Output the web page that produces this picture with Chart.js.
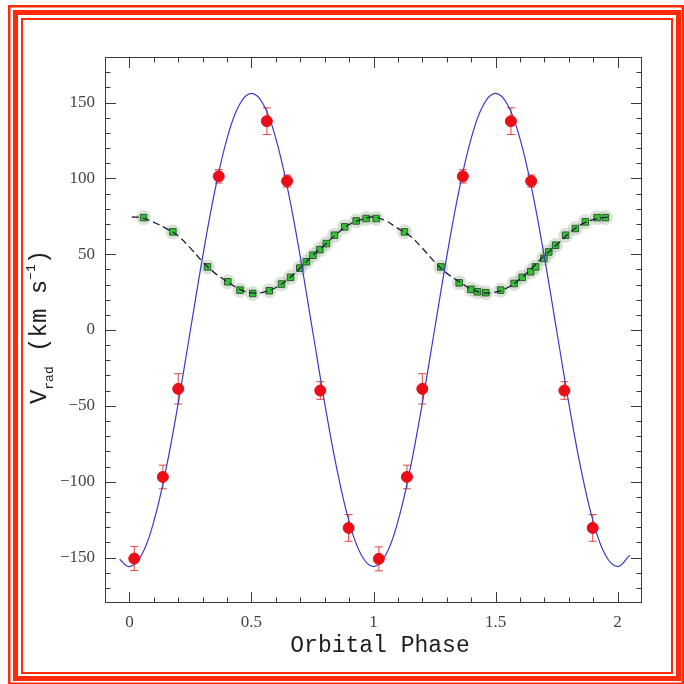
<!DOCTYPE html>
<html>
<head>
<meta charset="utf-8">
<title>Radial velocity curve</title>
<script src="https://cdn.jsdelivr.net/npm/chart.js@4.4.1/dist/chart.umd.min.js"></script>
<style>
  html, body { margin: 0; padding: 0; background: #ffffff; }
  canvas { display: block; }
</style>
</head>
<body>
<canvas id="rv" width="684" height="684"></canvas>
<script>
// Primary star: measured radial velocities (km/s) with 1-sigma errors, folded over two cycles
const primaryPhase = [0.02, 0.137, 0.20, 0.366, 0.563, 0.646, 0.782, 0.898,
                      1.022, 1.137, 1.20, 1.366, 1.563, 1.646, 1.782, 1.898];
const primaryVel   = [-150.7, -96.9, -38.8, 101.3, 137.7, 98.2, -39.9, -130.5,
                      -150.9, -96.9, -38.8, 101.3, 137.7, 98.2, -39.9, -130.5];
const primaryErr   = [7.9, 7.8, 10, 4.4, 8.8, 4, 5.8, 8.8,
                      7.9, 7.8, 10, 4.4, 8.8, 4, 5.8, 8.8];

// Orbital solution for the primary
const fitPhase = [-0.04, 0, 0.05, 0.10, 0.15, 0.20, 0.25, 0.30, 0.35, 0.40, 0.45, 0.50,
                  0.55, 0.60, 0.65, 0.70, 0.75, 0.80, 0.85, 0.90, 0.95, 1.00,
                  1.05, 1.10, 1.15, 1.20, 1.25, 1.30, 1.35, 1.40, 1.45, 1.50,
                  1.55, 1.60, 1.65, 1.70, 1.75, 1.80, 1.85, 1.90, 1.95, 2.00, 2.05];
const fitVel   = [-151.1, -156, -148.4, -126.2, -91.7, -48.2, 0, 48.2, 91.7, 126.2, 148.4, 156,
                  148.4, 126.2, 91.7, 48.2, 0, -48.2, -91.7, -126.2, -148.4, -156,
                  -148.4, -126.2, -91.7, -48.2, 0, 48.2, 91.7, 126.2, 148.4, 156,
                  148.4, 126.2, 91.7, 48.2, 0, -48.2, -91.7, -126.2, -148.4, -156, -148.4];

// Secondary component velocities (km/s)
const secondaryPhase = [0.058, 0.178, 0.32, 0.403, 0.453, 0.505, 0.573, 0.623, 0.66, 0.698,
                        0.725, 0.752, 0.78, 0.807, 0.84, 0.882, 0.929, 0.97, 1.011,
                        1.127, 1.276, 1.351, 1.399, 1.426, 1.46, 1.521, 1.576, 1.609, 1.644,
                        1.664, 1.698, 1.718, 1.746, 1.787, 1.827, 1.868, 1.916, 1.95];
const secondaryVel   = [74.1, 64.7, 41.6, 31.8, 26.3, 24.1, 25.9, 30.3, 34.7, 40.8,
                        45, 49.3, 53, 57, 62.5, 68, 71.9, 73.5, 73.5,
                        64.7, 41.6, 31.1, 26.8, 25.2, 24.6, 26.3, 30.7, 34.7, 38.4,
                        41.6, 47.2, 51.5, 55.9, 62.5, 66.9, 71.3, 74.1, 74.1];

// Model curve through the secondary velocities
const secFitPhase = [0.01, 0.05, 0.10, 0.15, 0.20, 0.25, 0.30, 0.35, 0.40, 0.45, 0.50,
                     0.55, 0.60, 0.65, 0.70, 0.75, 0.80, 0.85, 0.90, 0.95, 1.00,
                     1.05, 1.10, 1.15, 1.20, 1.25, 1.30, 1.35, 1.40, 1.45, 1.50,
                     1.55, 1.60, 1.65, 1.70, 1.75, 1.80, 1.85, 1.90, 1.95, 1.97];
const secFitVel   = [74.5, 74, 71, 67, 62, 54, 45, 37.5, 32, 27, 24.5,
                     25, 28, 33.5, 41, 49, 56, 63.5, 69.5, 72.8, 74.5,
                     72, 67, 62, 54, 45, 37.5, 32, 27, 24.5, 25,
                     28, 33.5, 41, 49, 56, 63.5, 69.5, 72.8, 74.2, 74.5];

// Axis tick labels
const xTickValues = [0, 0.5, 1, 1.5, 2];
const yTickValues = [-150, -100, -50, 0, 50, 100, 150];

const toPoints = (xs, ys) => xs.map((x, i) => ({ x: x, y: ys[i] }));
const fmtNum = v => (v < 0 ? '\u2212' + Math.abs(v) : String(v));

// Red double frame around the figure
const framePlugin = {
  id: 'frame',
  beforeDraw(chart) {
    const ctx = chart.ctx;
    ctx.save();
    ctx.fillStyle = '#ff2a08';
    const band = (x0, y0, x1, y1, w) => {
      ctx.fillRect(x0, y0, x1 - x0, w);
      ctx.fillRect(x0, y1 - w, x1 - x0, w);
      ctx.fillRect(x0, y0, w, y1 - y0);
      ctx.fillRect(x1 - w, y0, w, y1 - y0);
    };
    band(8, 5, 684, 685, 2.5);
    band(13, 10, 681, 681, 5);
    band(21, 18, 673, 674, 2);
    ctx.restore();
  }
};

// Error bars on the primary velocities
const errorBarPlugin = {
  id: 'errorBars',
  beforeDatasetsDraw(chart) {
    const ctx = chart.ctx, xs = chart.scales.x, ys = chart.scales.y;
    ctx.save();
    ctx.strokeStyle = '#e0463e';
    ctx.lineWidth = 1;
    primaryPhase.forEach((p, i) => {
      const x = xs.getPixelForValue(p);
      const yLo = ys.getPixelForValue(primaryVel[i] - primaryErr[i]);
      const yHi = ys.getPixelForValue(primaryVel[i] + primaryErr[i]);
      ctx.beginPath();
      ctx.moveTo(x, yLo); ctx.lineTo(x, yHi);
      ctx.moveTo(x - 4, yLo); ctx.lineTo(x + 4, yLo);
      ctx.moveTo(x - 4, yHi); ctx.lineTo(x + 4, yHi);
      ctx.stroke();
    });
    ctx.restore();
  }
};

// Box with inward ticks on all four sides, plus axis titles
const boxPlugin = {
  id: 'box',
  afterDraw(chart) {
    const ctx = chart.ctx, xs = chart.scales.x, ys = chart.scales.y;
    const a = chart.chartArea;
    ctx.save();
    ctx.strokeStyle = '#3a3a3a';
    ctx.lineWidth = 1;
    ctx.strokeRect(a.left + 0.5, a.top + 0.5, a.right - a.left - 1, a.bottom - a.top - 1);
    ctx.beginPath();
    for (let k = 0; k <= 20; k++) {
      const v = k / 10;
      const x = Math.round(xs.getPixelForValue(v)) + 0.5;
      const len = (k % 5 === 0) ? 11 : 5.5;
      ctx.moveTo(x, a.bottom); ctx.lineTo(x, a.bottom - len);
      ctx.moveTo(x, a.top); ctx.lineTo(x, a.top + len);
    }
    for (let v = -170; v <= 170; v += 10) {
      const y = Math.round(ys.getPixelForValue(v)) + 0.5;
      const len = (v % 50 === 0) ? 11 : 5.5;
      ctx.moveTo(a.left, y); ctx.lineTo(a.left + len, y);
      ctx.moveTo(a.right, y); ctx.lineTo(a.right - len, y);
    }
    ctx.stroke();

    // x-axis title
    ctx.fillStyle = '#1e1e1e';
    ctx.font = '23px "Liberation Mono"';
    ctx.textAlign = 'center';
    ctx.textBaseline = 'alphabetic';
    ctx.fillText('Orbital Phase', 380, 652);

    // y-axis title with subscript and superscript
    const big = '24px "Liberation Mono"', small = '13px "Liberation Mono"';
    const parts = [
      { t: 'V', f: big, dy: 0 },
      { t: 'rad', f: small, dy: 7 },
      { t: ' (km s', f: big, dy: 0 },
      { t: '\u22121', f: small, dy: -11 },
      { t: ')', f: big, dy: 0 }
    ];
    let total = 0;
    parts.forEach(p => { ctx.font = p.f; p.w = ctx.measureText(p.t).width; total += p.w; });
    ctx.translate(46, 327);
    ctx.rotate(-Math.PI / 2);
    ctx.textAlign = 'left';
    let cx = -total / 2;
    parts.forEach(p => { ctx.font = p.f; ctx.fillText(p.t, cx, p.dy); cx += p.w; });
    ctx.restore();
  }
};

const tickFont = { family: '"Liberation Serif"', size: 17 };

new Chart(document.getElementById('rv'), {
  type: 'scatter',
  data: {
    datasets: [
      {
        label: 'Primary',
        data: toPoints(primaryPhase, primaryVel),
        pointStyle: 'circle',
        pointRadius: 5.5,
        pointBackgroundColor: '#ec0d17',
        pointBorderColor: '#e0101a',
        pointBorderWidth: 1,
        order: 0
      },
      {
        label: 'Primary orbit',
        data: toPoints(fitPhase, fitVel),
        showLine: true,
        tension: 0.4,
        borderColor: '#3b3bc4',
        borderWidth: 1.2,
        pointRadius: 0,
        order: 1
      },
      {
        label: 'Secondary orbit',
        data: toPoints(secFitPhase, secFitVel),
        showLine: true,
        tension: 0.4,
        borderColor: '#20203c',
        borderWidth: 1.3,
        borderDash: [7, 4],
        pointRadius: 0,
        order: 2
      },
      {
        label: 'Secondary',
        data: toPoints(secondaryPhase, secondaryVel),
        pointStyle: 'rect',
        pointRadius: 4.6,
        pointBackgroundColor: '#34c234',
        pointBorderColor: '#2c5a2c',
        pointBorderWidth: 1,
        order: 3
      },
      {
        label: 'Secondary spread',
        data: toPoints(secondaryPhase, secondaryVel),
        pointStyle: 'circle',
        pointRadius: 7.5,
        pointBackgroundColor: 'rgba(165,185,158,0.4)',
        pointBorderWidth: 0,
        order: 4
      }
    ]
  },
  options: {
    responsive: false,
    animation: false,
    devicePixelRatio: 1,
    layout: { padding: { top: 57, right: 42, left: 0, bottom: 0 } },
    plugins: { legend: { display: false }, tooltip: { enabled: false } },
    scales: {
      x: {
        type: 'linear',
        min: -0.1,
        max: 2.1,
        afterBuildTicks: s => { s.ticks = xTickValues.map(v => ({ value: v })); },
        afterFit: s => { s.height = 81; },
        grid: { display: false, drawTicks: false },
        border: { display: false },
        ticks: { padding: 9, autoSkip: false, maxRotation: 0, color: '#444444', font: tickFont, callback: v => fmtNum(v) }
      },
      y: {
        type: 'linear',
        min: -180,
        max: 180,
        afterBuildTicks: s => { s.ticks = yTickValues.map(v => ({ value: v })); },
        afterFit: s => { s.width = 105; },
        grid: { display: false, drawTicks: false },
        border: { display: false },
        ticks: { padding: 10, autoSkip: false, color: '#444444', font: tickFont, callback: v => fmtNum(v) }
      }
    }
  },
  plugins: [framePlugin, errorBarPlugin, boxPlugin]
});
</script>
</body>
</html>
